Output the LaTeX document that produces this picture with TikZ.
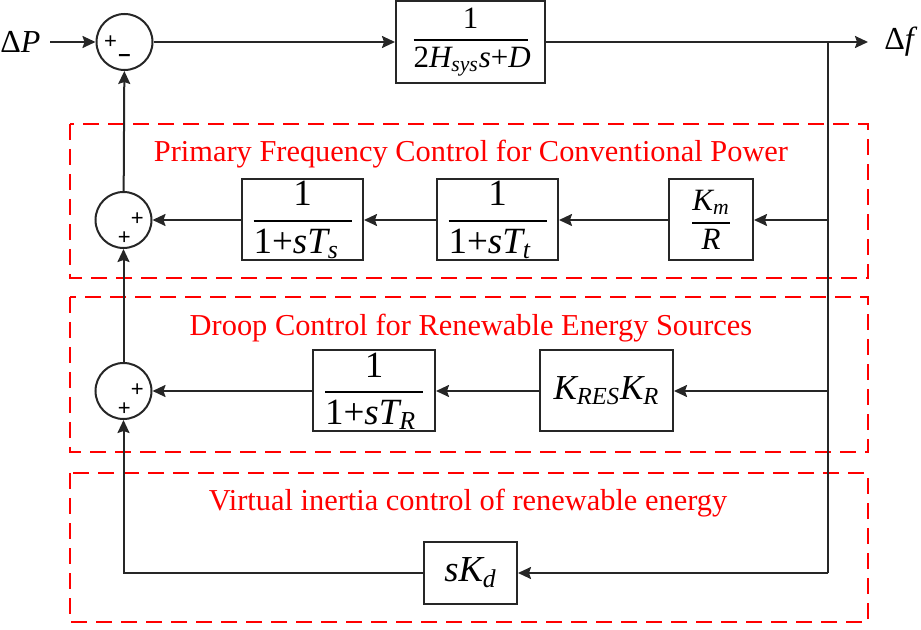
\documentclass[tikz,border=0pt]{standalone}
\usepackage{amsmath}
\usepackage{fontspec}
\setmainfont{Liberation Serif}
\newfontfamily\sgnfont{Liberation Sans}
\usetikzlibrary{arrows.meta}
\newcommand\ii[1]{\textit{#1}}
\newcommand\myfr[3]{\genfrac{}{}{0.9pt}{0}{#2}{\makebox[#1][l]{$#3$}}}
\begin{document}
\begin{tikzpicture}[x=0.5pt,y=-0.5pt,
 blk/.style={draw=black!85, line width=1pt, inner sep=0pt},
 sumc/.style={circle, draw=black!85, line width=1pt, minimum size=28pt, inner sep=0pt},
 conn/.style={line width=1pt, draw=black!85, -{Stealth[length=6.5pt,width=6pt,inset=1pt]}},
 ln/.style={line width=1pt, draw=black!85},
 grp/.style={draw=red, line width=1.2pt, dash pattern=on 8pt off 4.5pt},
 ttl/.style={text=red, font=\fontsize{15.2}{18}\selectfont},
 sgn/.style={font=\sgnfont\fontsize{11}{12}\selectfont, inner sep=0pt},
 lbl/.style={font=\fontsize{16}{18}\selectfont, inner sep=0pt},
 big/.style={font=\fontsize{18.5}{20}\selectfont},
 every node/.append style={font=\fontsize{15.5}{18}\selectfont}]
\useasboundingbox (0,0) rectangle (921,630);
% groups
\draw[grp] (70,124) rectangle (868,278);
\draw[grp] (70,297) rectangle (868,452);
\draw[grp] (70,473) rectangle (868,622);
\node[ttl] (t1) at (471,154) {Primary Frequency Control for Conventional Power};
\node[ttl] (t2) at (471,328) {Droop Control for Renewable Energy Sources};
\node[ttl] (t3) at (468,503) {Virtual inertia control of renewable energy};
% nodes
\node[lbl, anchor=west] (dP) at (0,42) {Δ\ii{P}};
\coordinate (inP) at (50,42);
\node[sumc] (s1) at (124.5,42) {};
\node[blk, minimum width=74.5pt, minimum height=41pt] (G) at (470.5,42)
  {$\myfr{57pt}{\text{1}}{\text{2}\ii{H}_{\ii{sys}}\ii{s}\text{+}\ii{D}}$};
\node[lbl, anchor=west] (df) at (884,42) {Δ\ii{f}};
\node[sumc] (s2) at (123.5,220) {};
\node[blk, big, minimum width=60.5pt, minimum height=40.5pt] (Ts) at (302.5,220)
  {$\myfr{49pt}{\text{1}}{\text{1+}\ii{sT}_{\ii{s}}}$};
\node[blk, big, minimum width=60.5pt, minimum height=40.5pt] (Tt) at (497.5,220)
  {$\myfr{49pt}{\text{1}}{\text{1+}\ii{sT}_{\ii{t}}}$};
\node[blk, minimum width=42pt, minimum height=40.5pt] (Km) at (711,220)
  {$\genfrac{}{}{0.9pt}{0}{\ii{K}_{\ii{m}}}{\ii{R}}$};
\node[sumc] (s3) at (123.5,391) {};
\node[blk, big, minimum width=61pt, minimum height=40.5pt] (TR) at (374,391)
  {$\myfr{49pt}{\text{1}}{\text{1+}\ii{sT}_{\ii{R}}}$};
\node[blk, font=\fontsize{17.5}{20}\selectfont, minimum width=66.5pt, minimum height=40.5pt] (KR) at (606.5,391)
  {$\ii{K}_{\ii{RES}}\ii{K}_{\ii{R}}$};
\node[blk, font=\fontsize{18.3}{20}\selectfont, minimum width=46.5pt, minimum height=31pt] (Kd) at (470.5,573)
  {$\ii{sK}_{\ii{d}}$};
% signs
\node[sgn] (p1) at (110.5,42) {+};
\node[sgn] (m1) at (124.5,58) {\textbf{–}};
\node[sgn] (p2a) at (137.3,219) {+};
\node[sgn] (p2b) at (124.3,237.7) {+};
\node[sgn] (p3a) at (137.3,390) {+};
\node[sgn] (p3b) at (124.3,409.3) {+};
% branch points
\coordinate (br) at (828,42);
\coordinate (b1) at (828,220);
\coordinate (b2) at (828,391);
\coordinate (b3) at (828,573);
\coordinate (outf) at (868,42);
% connectors
\draw[conn] (inP) -- (s1);
\draw[conn] (s1) -- (G);
\draw[conn] (G) -- (outf);
\draw[ln] (br) -- (b3);
\draw[conn] (b1) -- (Km);
\draw[conn] (Km) -- (Tt);
\draw[conn] (Tt) -- (Ts);
\draw[conn] (Ts) -- (s2);
\draw[conn] (b2) -- (KR);
\draw[conn] (KR) -- (TR);
\draw[conn] (TR) -- (s3);
\draw[conn] (b3) -- (Kd);
\draw[conn] (Kd) -| (s3);
\draw[conn] (s3) -- (s2);
\draw[conn] (s2) -- (s1);
\end{tikzpicture}
\end{document}
